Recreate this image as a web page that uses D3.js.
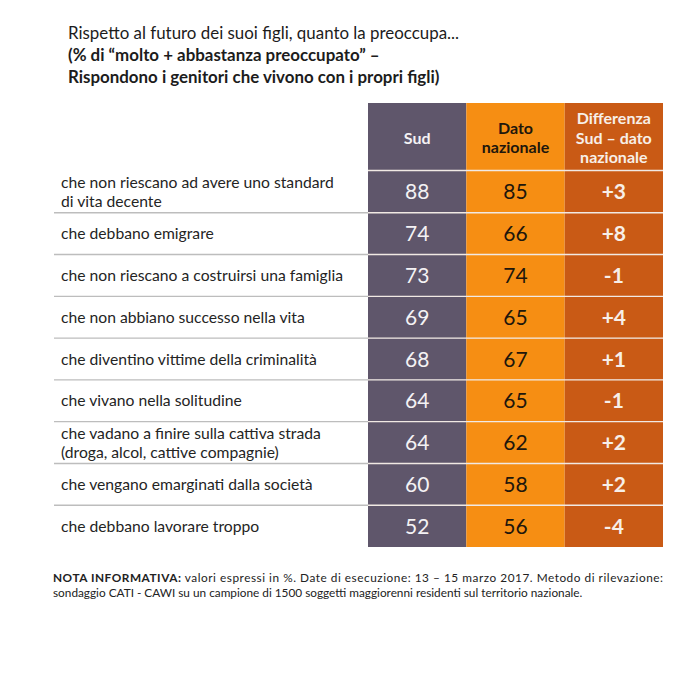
<!DOCTYPE html>
<html>
<head>
<meta charset="utf-8">
<script src="https://cdn.jsdelivr.net/npm/d3@7"></script>
<style>
  html, body { margin: 0; padding: 0; background: #fff; }
  text { font-family: Lato, "Open Sans", sans-serif; }
</style>
</head>
<body>
<div id="chart"></div>
<script>
const titleLines = [
  "Rispetto al futuro dei suoi figli, quanto la preoccupa...",
  "(% di “molto + abbastanza preoccupato” –",
  "Rispondono i genitori che vivono con i propri figli)"
];
const categories = [
  ["che non riescano ad avere uno standard", "di vita decente"],
  ["che debbano emigrare"],
  ["che non riescano a costruirsi una famiglia"],
  ["che non abbiano successo nella vita"],
  ["che diventino vittime della criminalità"],
  ["che vivano nella solitudine"],
  ["che vadano a finire sulla cattiva strada", "(droga, alcol, cattive compagnie)"],
  ["che vengano emarginati dalla società"],
  ["che debbano lavorare troppo"]
];
const sud = [88, 74, 73, 69, 68, 64, 64, 60, 52];
const nazionale = [85, 66, 74, 65, 67, 65, 62, 58, 56];
const differenza = ["+3", "+8", "-1", "+4", "+1", "-1", "+2", "+2", "-4"];
const columnKeys = ["sud", "nazionale", "differenza"];
const columnHeaders = [["Sud"], ["Dato", "nazionale"], ["Differenza", "Sud – dato", "nazionale"]];
const columnValues = [sud, nazionale, differenza];
const columnFill = ["#5f566b", "#f68e13", "#c95a15"];
const columnInk = ["#f4f2f4", "#20160c", "#f7efe8"];

const svg = d3.select("#chart").append("svg")
  .attr("width", 700)
  .attr("height", 700)
  .style("display", "block");

// Title
svg.append("g").selectAll("text")
  .data(titleLines)
  .enter().append("text")
  .attr("x", 68)
  .attr("y", (d, i) => 39 + i * 22)
  .attr("font-size", 16.9)
  .attr("font-weight", (d, i) => i === 0 ? 400 : 700)
  .attr("fill", "#1c1c1c")
  .text(d => d);

// Scales
const x = d3.scaleBand().domain(columnKeys).range([368, 663]);
const y = d3.scaleBand().domain(d3.range(categories.length)).range([171, 547]);
const headerTop = 103;
const headerBottom = 170;

// Header cells
const header = svg.append("g").selectAll("g")
  .data(columnKeys)
  .enter().append("g");

header.append("rect")
  .attr("x", d => x(d))
  .attr("y", headerTop)
  .attr("width", x.bandwidth())
  .attr("height", headerBottom - headerTop)
  .attr("fill", (d, i) => columnFill[i]);

header.each(function(d, i) {
  const lines = columnHeaders[i];
  const mid = (headerTop + headerBottom) / 2;
  d3.select(this).selectAll("text")
    .data(lines)
    .enter().append("text")
    .attr("x", x(d) + x.bandwidth() / 2)
    .attr("y", (l, n) => mid + 7 + (n - (lines.length - 1) / 2) * 19.5)
    .attr("text-anchor", "middle")
    .attr("font-size", 16)
    .attr("font-weight", 700)
    .attr("fill", columnInk[i])
    .text(l => l);
});

// Value cells
columnKeys.forEach((key, c) => {
  const cells = svg.append("g").selectAll("g")
    .data(columnValues[c])
    .enter().append("g");

  cells.append("rect")
    .attr("x", x(key))
    .attr("y", (d, i) => y(i))
    .attr("width", x.bandwidth())
    .attr("height", y.bandwidth())
    .attr("fill", columnFill[c]);

  cells.append("text")
    .attr("x", x(key) + x.bandwidth() / 2)
    .attr("y", (d, i) => y(i) + y.bandwidth() / 2 + 7.5)
    .attr("text-anchor", "middle")
    .attr("font-size", 21)
    .attr("font-weight", key === "differenza" ? 700 : 400)
    .attr("fill", columnInk[c])
    .text(d => d);
});

// Row separators
const separators = svg.append("g").selectAll("g")
  .data(d3.range(categories.length - 1))
  .enter().append("g");

separators.append("line")
  .attr("x1", 54)
  .attr("x2", 368)
  .attr("y1", i => y(i + 1))
  .attr("y2", i => y(i + 1))
  .attr("stroke", "#bdbdbd")
  .attr("stroke-width", 1.4);

separators.append("line")
  .attr("x1", 368)
  .attr("x2", 663)
  .attr("y1", i => y(i + 1))
  .attr("y2", i => y(i + 1))
  .attr("stroke", "#f1e9e4")
  .attr("stroke-width", 1.4);

svg.append("line")
  .attr("x1", 368).attr("x2", 663)
  .attr("y1", 170.5).attr("y2", 170.5)
  .attr("stroke", "#f1e9e4")
  .attr("stroke-width", 1.4);

// Row labels
const labels = svg.append("g").selectAll("g")
  .data(categories)
  .enter().append("g");

labels.each(function(lines, i) {
  const mid = y(i) + y.bandwidth() / 2;
  d3.select(this).selectAll("text")
    .data(lines)
    .enter().append("text")
    .attr("x", 61)
    .attr("y", (l, n) => mid + 5.5 + (n - (lines.length - 1) / 2) * 19)
    .attr("font-size", 15.7)
    .attr("fill", "#242424")
    .text(l => l);
});

// Footnote
const note = svg.append("g").attr("font-size", 11.8).attr("fill", "#222");

const firstLine = note.append("text")
  .attr("x", 53)
  .attr("y", 582)
  .attr("textLength", 610)
  .attr("lengthAdjust", "spacing");
firstLine.append("tspan").attr("font-weight", 700).text("NOTA INFORMATIVA:");
firstLine.append("tspan").text(" valori espressi in %. Date di esecuzione: 13 – 15 marzo 2017. Metodo di rilevazione:");

note.append("text")
  .attr("x", 53)
  .attr("y", 597)
  .text("sondaggio CATI - CAWI su un campione di 1500 soggetti maggiorenni residenti sul territorio nazionale.");
</script>
</body>
</html>
